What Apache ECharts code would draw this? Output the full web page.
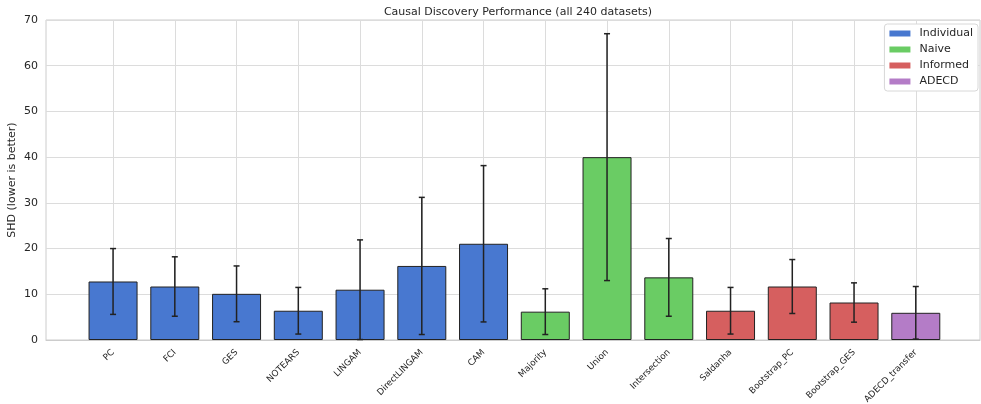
<!DOCTYPE html>
<html>
<head>
<meta charset="utf-8">
<script src="https://cdn.jsdelivr.net/npm/echarts@6/dist/echarts.min.js"></script>
<style>html,body{margin:0;padding:0;background:#fff}#c{width:981px;height:404px}</style>
</head>
<body>
<div id="c"></div>
<script>
const categories = ['PC','FCI','GES','NOTEARS','LINGAM','DirectLINGAM','CAM','Majority','Union','Intersection','Saldanha','Bootstrap_PC','Bootstrap_GES','ADECD_transfer'];
const groups = ['Individual','Individual','Individual','Individual','Individual','Individual','Individual','Naive','Naive','Naive','Informed','Informed','Informed','ADECD'];
const means = [12.8, 11.7, 10.1, 6.4, 11.0, 16.2, 21.05, 6.2, 40.0, 13.7, 6.4, 11.7, 8.2, 5.95];
const errs  = [7.2, 6.5, 6.1, 5.1, 10.9, 15.0, 17.1, 5.0, 27.0, 8.5, 5.1, 5.9, 4.3, 5.75];
const groupNames = ['Individual','Naive','Informed','ADECD'];
const groupColors = ['#4878d0','#6acc64','#d65f5f','#b47cc7'];
const yTicks = [0,10,20,30,40,50,60,70];

const font = 'DejaVu Sans';
const chart = echarts.init(document.getElementById('c'), null, {renderer:'canvas'});
const idx = categories.map((_, i) => i);

const barSeries = groupNames.map((g, gi) => ({
  name: g,
  type: 'bar',
  barWidth: 49,
  barGap: '-100%',
  itemStyle: { color: groupColors[gi], borderColor: '#222', borderWidth: 1 },
  data: idx.filter(i => groups[i] === g).map(i => [i, means[i]]),
  z: 2
}));

const errSeries = {
  type: 'custom',
  silent: true,
  z: 5,
  data: idx.map(i => [i, means[i] - errs[i], means[i] + errs[i]]),
  renderItem: function (params, api) {
    const x = api.value(0);
    const lo = api.coord([x, Math.max(api.value(1), 0)]);
    const hi = api.coord([x, api.value(2)]);
    const st = { stroke: '#222', lineWidth: 1.5 };
    const cw = 3;
    return {
      type: 'group',
      children: [
        { type: 'line', shape: { x1: lo[0], y1: lo[1], x2: hi[0], y2: hi[1] }, style: st },
        { type: 'line', shape: { x1: hi[0]-cw, y1: hi[1], x2: hi[0]+cw, y2: hi[1] }, style: st },
        { type: 'line', shape: { x1: lo[0]-cw, y1: lo[1], x2: lo[0]+cw, y2: lo[1] }, style: st }
      ]
    };
  }
};

chart.setOption({
  animation: false,
  backgroundColor: '#fff',
  textStyle: { fontFamily: font },
  title: {
    text: 'Causal Discovery Performance (all 240 datasets)',
    left: 513, textAlign: 'center', top: 2,
    textStyle: { fontSize: 11, fontWeight: 'normal', color: '#262626', fontFamily: font }
  },
  legend: {
    data: groupNames,
    orient: 'vertical',
    right: 3, top: 24,
    icon: 'rect',
    itemWidth: 21, itemHeight: 6,
    itemGap: 5,
    padding: [4, 5, 4, 5],
    backgroundColor: '#fff',
    borderColor: '#d8d8d8', borderWidth: 1, borderRadius: 3,
    itemStyle: { borderWidth: 0 },
    textStyle: { fontSize: 11, color: '#262626', fontFamily: font, padding: [0, 0, 0, 4] }
  },
  grid: { left: 46, right: 1, top: 20, bottom: 64, show: true, borderColor: '#cccccc', borderWidth: 1, outerBoundsMode: 'none', containLabel: false },
  xAxis: {
    type: 'value',
    min: -1.086, max: 14.04,
    axisLine: { show: true, lineStyle: { color: '#cccccc' } },
    axisTick: { show: false, customValues: idx },
    splitLine: { show: true, lineStyle: { color: '#dcdcdc', width: 1 } },
    axisLabel: {
      customValues: idx,
      rotate: 45, fontSize: 8.8, color: '#262626', margin: 11, fontFamily: font,
      formatter: v => categories[Math.round(v)] || ''
    }
  },
  yAxis: {
    type: 'value',
    min: 0, max: 70, interval: 10,
    name: 'SHD (lower is better)',
    nameLocation: 'middle', nameGap: 28, nameMoveOverlap: false,
    nameTextStyle: { fontSize: 11, color: '#262626', fontFamily: font },
    axisLine: { show: false },
    axisTick: { show: false },
    splitLine: { lineStyle: { color: '#dcdcdc', width: 1 } },
    axisLabel: { fontSize: 11, color: '#262626', margin: 8, fontFamily: font,
      formatter: v => yTicks.includes(v) ? String(v) : '' }
  },
  series: [...barSeries, errSeries]
});
</script>
</body>
</html>
